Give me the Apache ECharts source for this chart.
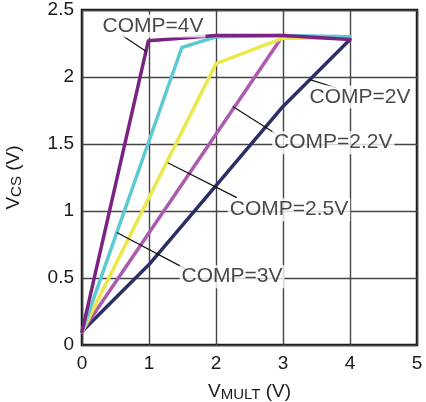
<!DOCTYPE html>
<html>
<head>
<meta charset="utf-8">
<script src="https://cdn.jsdelivr.net/npm/echarts@6/dist/echarts.min.js"></script>
<style>html,body{margin:0;padding:0;background:#fff;}#c{width:426px;height:402px;}</style>
</head>
<body>
<div id="c"></div>
<script>
// Curves: [V_MULT, V_CS]
const comp2V  = [[0,0.1],[1,0.6],[2,1.19],[3,1.78],[4,2.28]];
const comp22V = [[0,0.1],[3,2.31],[4,2.29]];
const comp25V = [[0,0.1],[2,2.1],[3,2.29],[4,2.29]];
const comp3V  = [[0,0.1],[1.49,2.22],[2,2.3],[3,2.31],[4,2.3]];
const comp4V  = [[0,0.1],[0.99,2.27],[2,2.31],[3,2.31],[4,2.28]];
const seriesNames = ['COMP=2V','COMP=2.2V','COMP=2.5V','COMP=3V','COMP=4V'];
const xTicks = [0,1,2,3,4,5];
const yTicks = [0,0.5,1,1.5,2,2.5];
// Annotation label anchors (data units) and leader lines
const labelPos = [[4.15,1.85],[3.75,1.51],[3.09,1.01],[2.24,0.51],[1.06,2.38]];
const leaders = [
  [[3.40,1.98],[3.79,1.92]],
  [[2.25,1.78],[2.88,1.58]],
  [[1.28,1.36],[2.31,1.10]],
  [[0.52,0.84],[1.54,0.57]],
  [[0.60,2.31],[0.96,2.19]]
];

const colors = ['#2C2E66','#AC5BAF','#EDE84A','#5CC9D3','#7A2383'];
const curves = [comp2V, comp22V, comp25V, comp3V, comp4V];
const FONT = 'Liberation Sans, Arial, sans-serif';

const chart = echarts.init(document.getElementById('c'), null, {renderer:'canvas'});
const series = curves.map((d,i)=>({
  type:'line', name:seriesNames[i], data:d, symbol:'none',
  lineStyle:{color:colors[i], width:3.5, cap:'round', join:'round'},
  z: 3+i, silent:true
}));
series.push({
  type:'lines', coordinateSystem:'cartesian2d', silent:true, z:10,
  lineStyle:{color:'#111', width:1.2, opacity:1},
  data: leaders.map(c=>({coords:c}))
});
series.push({
  type:'scatter', silent:true, z:11, symbolSize:0,
  data: labelPos.map((p,i)=>({value:p, name:seriesNames[i]})),
  label:{show:true, position:'inside', formatter:p=>p.name, color:'#1a1a1a',
    fontFamily:FONT, fontSize:21, backgroundColor:'#fff', padding:[1,2]}
});

chart.setOption({
  animation:false,
  backgroundColor:'#fff',
  grid:{left:82, right:9, top:10, bottom:57, outerBoundsMode:'none', containLabel:false,
    show:true, borderColor:'#111', borderWidth:2.5, backgroundColor:'transparent'},
  xAxis:{
    type:'value', min:xTicks[0], max:xTicks[xTicks.length-1], interval:1,
    axisLine:{show:false}, axisTick:{show:false},
    splitLine:{show:true, lineStyle:{color:'#444', width:1.4}},
    axisLabel:{color:'#1a1a1a', fontFamily:FONT, fontSize:19, margin:9},
    name:'{v|V}{s|MULT}{v| (V)}', nameLocation:'middle', nameGap:29,
    nameTextStyle:{color:'#1a1a1a', fontFamily:FONT,
      rich:{v:{fontSize:19, fontFamily:FONT, color:'#1a1a1a', lineHeight:20, verticalAlign:'top'},
            s:{fontSize:15, fontFamily:FONT, color:'#1a1a1a', lineHeight:15, verticalAlign:'bottom', padding:[9,0,0,0]}}}
  },
  yAxis:{
    type:'value', min:yTicks[0], max:yTicks[yTicks.length-1], interval:0.5,
    axisLine:{show:false}, axisTick:{show:false},
    splitLine:{show:true, lineStyle:{color:'#444', width:1.4}},
    axisLabel:{color:'#1a1a1a', fontFamily:FONT, fontSize:19, margin:8, formatter:v=>String(v)},
    name:'{v|V}{s|CS}{v| (V)}', nameLocation:'middle', nameGap:58, nameRotate:90,
    nameTextStyle:{color:'#1a1a1a', fontFamily:FONT,
      rich:{v:{fontSize:19, fontFamily:FONT, color:'#1a1a1a', lineHeight:20, verticalAlign:'top'},
            s:{fontSize:15, fontFamily:FONT, color:'#1a1a1a', lineHeight:15, verticalAlign:'bottom', padding:[9,0,0,0]}}}
  },
  series: series
});
</script>
</body>
</html>
